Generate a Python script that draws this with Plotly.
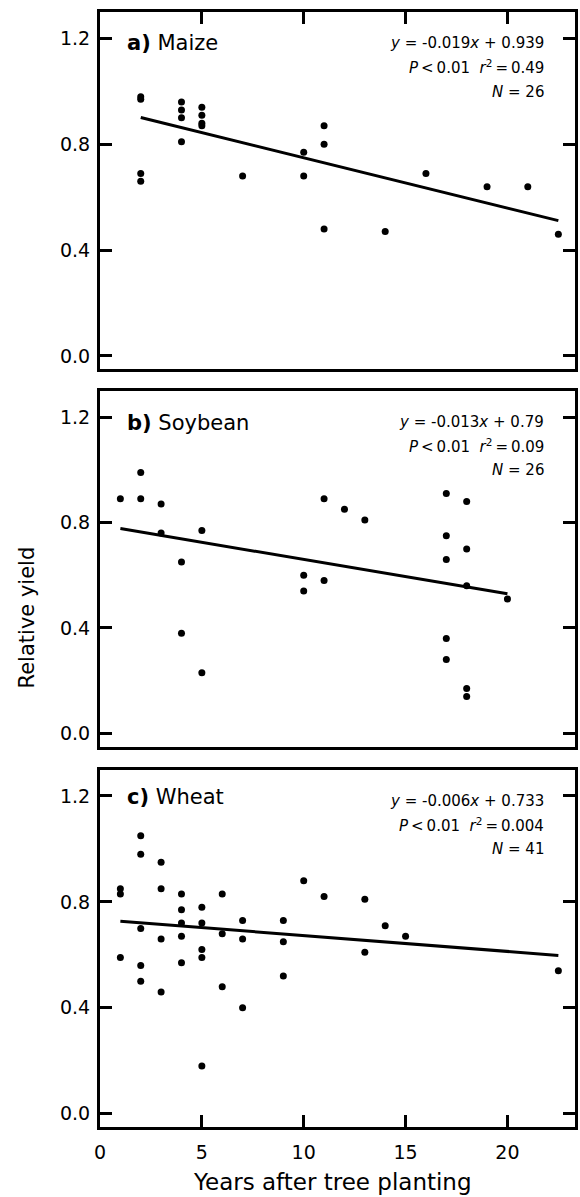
import plotly.graph_objects as go

# ---------------- data ----------------
maize_x = [2, 2, 2, 2, 4, 4, 4, 4, 5, 5, 5, 5, 7, 10, 10, 11, 11, 11, 14, 16, 19, 21, 22.5]
maize_y = [0.98, 0.97, 0.69, 0.66, 0.96, 0.93, 0.90, 0.81, 0.94, 0.91, 0.88, 0.87, 0.68,
           0.77, 0.68, 0.87, 0.80, 0.48, 0.47, 0.69, 0.64, 0.64, 0.46]

soy_x = [1, 2, 2, 3, 3, 4, 4, 5, 5, 10, 10, 11, 11, 12, 13, 17, 17, 17, 17, 17, 18, 18, 18, 18, 18, 20]
soy_y = [0.89, 0.99, 0.89, 0.87, 0.76, 0.65, 0.38, 0.77, 0.23, 0.60, 0.54, 0.89, 0.58, 0.85, 0.81,
         0.91, 0.75, 0.66, 0.36, 0.28, 0.88, 0.70, 0.56, 0.17, 0.14, 0.51]

wheat_x = [1, 1, 1, 2, 2, 2, 2, 2, 3, 3, 3, 3, 4, 4, 4, 4, 4, 5, 5, 5, 5, 5, 6, 6, 6,
           7, 7, 7, 9, 9, 9, 10, 11, 13, 13, 14, 15, 22.5]
wheat_y = [0.85, 0.83, 0.59, 1.05, 0.98, 0.70, 0.56, 0.50, 0.95, 0.85, 0.66, 0.46,
           0.83, 0.77, 0.72, 0.67, 0.57, 0.78, 0.72, 0.62, 0.59, 0.18, 0.83, 0.68, 0.48,
           0.73, 0.66, 0.40, 0.73, 0.65, 0.52, 0.88, 0.82, 0.81, 0.61, 0.71, 0.67, 0.54]

panel_letters = ["a)", "b)", "c)"]
crop_names = ["Maize", "Soybean", "Wheat"]
slopes = [-0.019, -0.013, -0.006]
intercepts = [0.939, 0.79, 0.733]
slope_text = ["-0.019", "-0.013", "-0.006"]
intercept_text = ["0.939", "0.79", "0.733"]
p_text = ["0.01", "0.01", "0.01"]
r2_text = ["0.49", "0.09", "0.004"]
n_text = ["26", "26", "41"]

y_tickvals = [0.0, 0.4, 0.8, 1.2]
y_ticktext = ["0.0", "0.4", "0.8", "1.2"]
x_tickvals = [0, 5, 10, 15, 20]
x_ticktext = ["0", "5", "10", "15", "20"]

xs = [maize_x, soy_x, wheat_x]
ys = [maize_y, soy_y, wheat_y]

# ---------------- layout geometry ----------------
W, H = 580, 1197
ML, MR, MT, MB = 100, 2, 12, 70
PW = W - ML - MR
PH = H - MT - MB
FONT = "DejaVu Sans"


def py(px):
    return (H - MB - px) / PH


def pxx(px):
    return (px - ML) / PW


domains = [[py(369.2), 1.0], [py(746.5), py(390.8)], [0.0, py(769.5)]]
panel_tops = [10.5, 389.3, 768.0]

fig = go.Figure()

for i in range(3):
    ax = "" if i == 0 else str(i + 1)
    fig.add_trace(go.Scatter(
        x=xs[i], y=ys[i], mode="markers",
        marker=dict(color="black", size=7),
        xaxis="x" + ax, yaxis="y" + ax, showlegend=False, hoverinfo="skip"))
    x0, x1 = min(xs[i]), max(xs[i])
    fig.add_trace(go.Scatter(
        x=[x0, x1],
        y=[slopes[i] * x0 + intercepts[i], slopes[i] * x1 + intercepts[i]],
        mode="lines", line=dict(color="black", width=3),
        xaxis="x" + ax, yaxis="y" + ax, showlegend=False, hoverinfo="skip"))

common_x = dict(range=[0, PW / 20.5], showgrid=False, zeroline=False,
                showline=True, linewidth=3, linecolor="black",
                tickvals=x_tickvals, ticktext=x_ticktext,
                ticklen=12, tickwidth=3, tickcolor="black",
                tickfont=dict(family=FONT, size=19, color="black"))
common_y = dict(range=[-0.05, 1.30], showgrid=False, zeroline=False,
                showline=True, linewidth=3, linecolor="black",
                tickvals=y_tickvals, ticktext=y_ticktext,
                ticks="inside", ticklen=12, tickwidth=3, tickcolor="black",
                mirror="allticks", ticklabelstandoff=3,
                tickfont=dict(family=FONT, size=19, color="black"))

layout = dict(
    width=W, height=H,
    margin=dict(l=ML, r=MR, t=MT, b=MB),
    paper_bgcolor="white", plot_bgcolor="white",
    font=dict(family=FONT, color="black"),
)

# panel a: x ticks on top only
layout["xaxis"] = dict(common_x, domain=[0, 1], anchor="y", side="top",
                       ticks="inside", showticklabels=False, mirror=True)
layout["yaxis"] = dict(common_y, domain=domains[0], anchor="x")
# panel b: no x ticks
layout["xaxis2"] = dict(common_x, domain=[0, 1], anchor="y2", ticks="",
                        showticklabels=False, mirror=True, matches="x")
layout["yaxis2"] = dict(common_y, domain=domains[1], anchor="x2")
# panel c: x ticks at bottom with labels
layout["xaxis3"] = dict(common_x, domain=[0, 1], anchor="y3", ticks="inside",
                        showticklabels=True, mirror=True, matches="x",
                        ticklabelstandoff=6)
layout["yaxis3"] = dict(common_y, domain=domains[2], anchor="x3")

annotations = []
label_offsets = [32, 34, 29]
TS = "&#8201;"
for i in range(3):
    top = panel_tops[i]
    annotations.append(dict(
        x=pxx(125), y=py(top + label_offsets[i]), xref="paper", yref="paper",
        xanchor="left", yanchor="middle", showarrow=False,
        text="<b>" + panel_letters[i] + "</b> " + crop_names[i],
        font=dict(family=FONT, size=21, color="black")))
    lines = [
        "<i>y</i> = " + slope_text[i] + "<i>x</i> + " + intercept_text[i],
        "<i>P</i>" + TS + "&lt;" + TS + p_text[i] + "&#160;&#160;<i>r</i><sup>2</sup>"
        + TS + "=" + TS + r2_text[i],
        "<i>N</i> = " + n_text[i],
    ]
    for j, off in enumerate([33, 57, 81]):
        annotations.append(dict(
            x=pxx(549), y=py(top + off), xref="paper", yref="paper",
            xanchor="right", yanchor="middle", showarrow=False,
            text=lines[j], font=dict(family=FONT, size=15, color="black")))

annotations.append(dict(
    x=pxx(27), y=py(617), xref="paper", yref="paper", xanchor="center",
    yanchor="middle", showarrow=False, textangle=-90, text="Relative yield",
    font=dict(family=FONT, size=21, color="black")))
annotations.append(dict(
    x=pxx(334), y=py(1182), xref="paper", yref="paper", xanchor="center",
    yanchor="middle", showarrow=False, text="Years after tree planting",
    font=dict(family=FONT, size=23, color="black")))
layout["annotations"] = annotations

fig.update_layout(**layout)
fig.write_html("out.html")
